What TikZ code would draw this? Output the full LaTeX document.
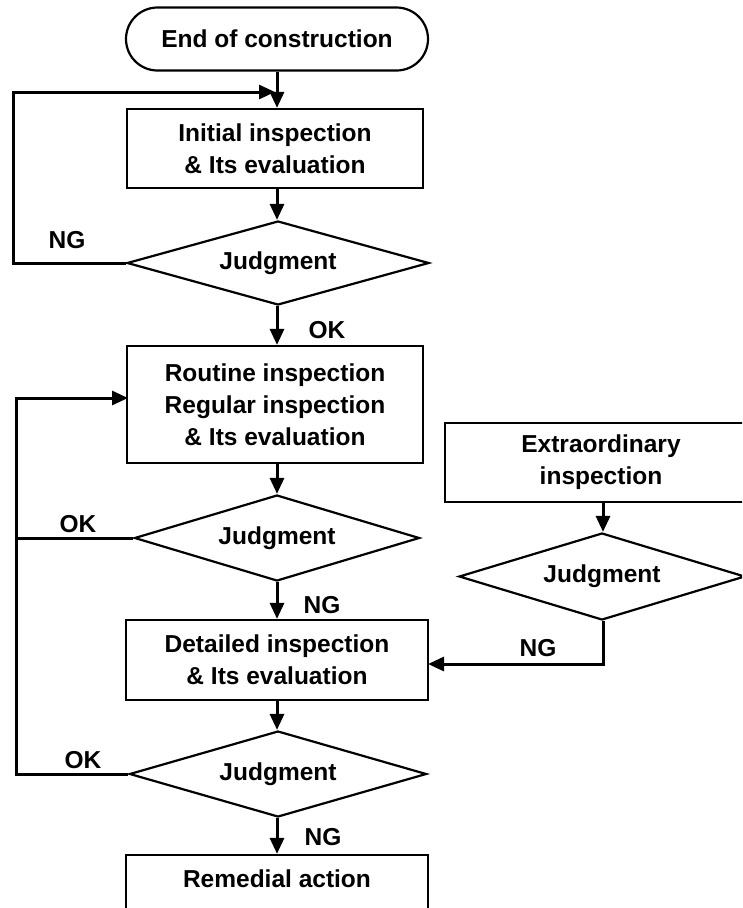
\documentclass[tikz,border=0pt]{standalone}
\usepackage{fontspec}
\setmainfont{Liberation Sans}
\usetikzlibrary{shapes.geometric,shapes.misc,arrows.meta}
\tikzset{
  base/.style={draw=black,line width=2.2pt,align=center,inner sep=0pt,
    font=\fontsize{24.5}{32}\selectfont\bfseries},
  term/.style={base,rounded rectangle,minimum width=302pt,minimum height=63pt},
  boxn/.style={base,rectangle,minimum width=296pt},
  dia/.style={base,diamond,aspect=3.5,minimum width=300pt,minimum height=85pt},
  conn/.style={line width=3pt,-{Triangle[length=16pt,width=14pt]}},
  plain/.style={line width=3pt},
  lbl/.style={font=\fontsize{24.5}{32}\selectfont\bfseries,inner sep=0pt}
}
\begin{document}
\begin{tikzpicture}[x=1pt,y=-1pt]
\useasboundingbox (0,0) rectangle (742,908);
\begin{scope}
\clip (0,0) rectangle (742,908);
\node[term] (term) at (277,39) {End of construction};
\node[boxn,minimum height=79pt] (b1) at (275,148.5) {Initial inspection\\\& Its evaluation};
\node[dia,minimum width=302pt,minimum height=84pt] (d1) at (278,263) {Judgment};
\node[boxn,minimum height=117pt] (b2) at (275,404.5) {Routine inspection\\Regular inspection\\\& Its evaluation};
\node[dia,minimum width=285pt,minimum height=86pt] (d2) at (277,538) {Judgment};
\node[boxn,minimum width=302pt,minimum height=80pt] (b3) at (277,660) {Detailed inspection\\\& Its evaluation};
\node[dia,minimum width=297pt,minimum height=86pt] (d3) at (278,774) {Judgment};
\node[boxn,minimum width=302pt,minimum height=80pt] (b4) at (277,895) {Remedial action\\\phantom{x}};
\node[boxn,minimum width=312pt,minimum height=79pt] (ex) at (601,462.5) {Extraordinary\\inspection};
\node[dia,minimum width=286pt,minimum height=87pt] (d4) at (602,576.5) {Judgment};

\coordinate (j1) at (275,92);
\coordinate (b2in) at (128,398);
\coordinate (b3in) at (428,664);

\draw[conn] (term.south -| 277,0) -- (b1.north -| 277,0);
\draw[conn] (b1.south -| 277,0) -- (d1.north -| 277,0);
\draw[conn] (d1.west) -- (13,263) |- (j1);
\draw[conn] (d1.south -| 277,0) -- (b2.north -| 277,0);
\draw[conn] (b2.south -| 277,0) -- (d2.north);
\draw[conn] (d2.west) -- (16,538) |- (b2in);
\draw[conn] (d2.south) -- (b3.north);
\draw[conn] (b3.south) -- (d3.north -| 277,0);
\draw[plain] (d3.west) -| (16,538);
\draw[conn] (d3.south -| 277,0) -- (b4.north);
\draw[conn] (ex.south -| 603,0) -- (d4.north -| 603,0);
\draw[conn] (d4.south -| 603,0) |- (b3in);

\node[lbl] (l1) at (67,240) {NG};
\node[lbl] (l2) at (327,330) {OK};
\node[lbl] (l3) at (78,524) {OK};
\node[lbl] (l4) at (322,605) {NG};
\node[lbl] (l5) at (538,648) {NG};
\node[lbl] (l6) at (83,760) {OK};
\node[lbl] (l7) at (323,837) {NG};
\end{scope}
\end{tikzpicture}
\end{document}
